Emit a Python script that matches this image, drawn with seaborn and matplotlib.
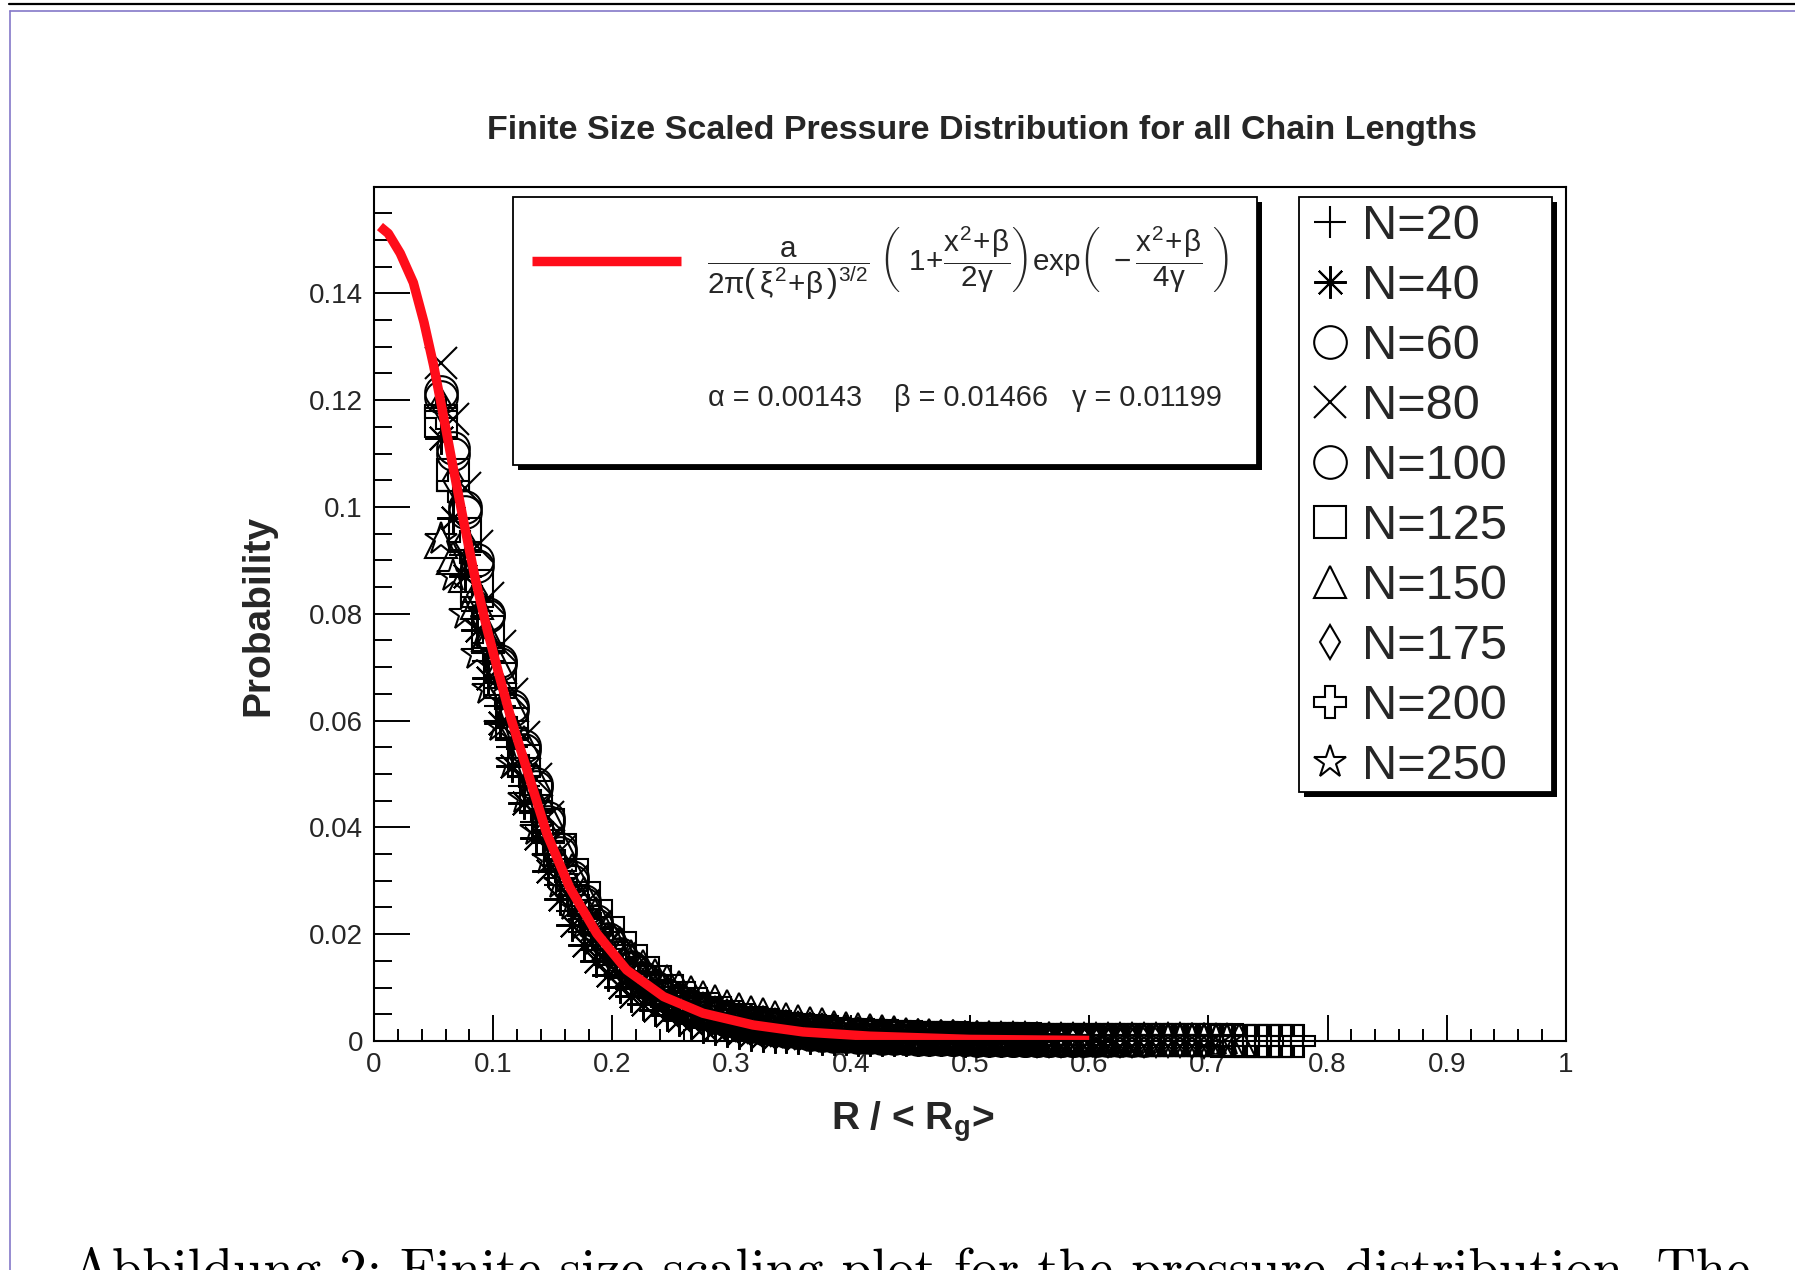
import matplotlib
matplotlib.use("Agg")
import matplotlib.pyplot as plt
import seaborn as sns
from matplotlib.patches import Rectangle
from matplotlib.lines import Line2D
from matplotlib.ticker import FixedLocator, MultipleLocator

# ---------------- data ----------------
TITLE = "Finite Size Scaled Pressure Distribution for all Chain Lengths"
X_LABEL = "R / < R$_\\mathregular{g}$>"
Y_LABEL = "Probability"
CAPTION = "Abbildung 2: Finite size scaling plot for the pressure distribution. The"

X_TICKS = [0.0, 0.1, 0.2, 0.3, 0.4, 0.5, 0.6, 0.7, 0.8, 0.9, 1.0]
X_TICKLABELS = ["0", "0.1", "0.2", "0.3", "0.4", "0.5", "0.6", "0.7", "0.8", "0.9", "1"]
Y_TICKS = [0.0, 0.02, 0.04, 0.06, 0.08, 0.10, 0.12, 0.14]
Y_TICKLABELS = ["0", "0.02", "0.04", "0.06", "0.08", "0.1", "0.12", "0.14"]

N_VALUES = [20, 40, 60, 80, 100, 125, 150, 175, 200, 250]

R_BINS = [
    0.056, 0.066, 0.076, 0.086, 0.096, 0.106, 0.116, 0.126, 0.136, 0.146,
    0.156, 0.166, 0.176, 0.186, 0.196, 0.206, 0.216, 0.226, 0.236, 0.246,
    0.256, 0.266, 0.276, 0.286, 0.296, 0.306, 0.316, 0.326, 0.336, 0.346,
    0.356, 0.366, 0.376, 0.386, 0.396, 0.406, 0.416, 0.426, 0.436, 0.446,
    0.456, 0.466, 0.476, 0.486, 0.496, 0.506, 0.516, 0.526, 0.536, 0.546,
    0.556, 0.566, 0.576, 0.586, 0.596, 0.606, 0.616, 0.626, 0.636, 0.646,
    0.656, 0.666, 0.676, 0.686, 0.696, 0.706, 0.716, 0.726, 0.736, 0.746,
    0.756, 0.766, 0.776,
]

P_N20 = [
    0.1180, 0.1030, 0.0910, 0.0805, 0.0712, 0.0628, 0.0550, 0.0478, 0.0410, 0.0348,
    0.0292, 0.0244, 0.0204, 0.0170, 0.0142, 0.0118, 0.0098, 0.0082, 0.0068, 0.0057,
    0.0048, 0.0040, 0.0034, 0.0028, 0.0024, 0.0020, 0.0017, 0.0014, 0.0012, 0.0010,
    0.0008, 0.0007, 0.0006, 0.0005, 0.0004, 0.0004, 0.0003, 0.0003, 0.0002, 0.0002,
    0.0002, 0.0001, 0.0001, 0.0001, 0.0001,
]
P_N40 = [
    0.1130, 0.0980, 0.0870, 0.0770, 0.0680, 0.0595, 0.0515, 0.0445, 0.0380, 0.0318,
    0.0265, 0.0218, 0.0180, 0.0150, 0.0124, 0.0102, 0.0084, 0.0070, 0.0058, 0.0048,
    0.0040, 0.0033, 0.0027, 0.0022, 0.0018, 0.0015, 0.0012, 0.0010, 0.0008, 0.0007,
    0.0006, 0.0005, 0.0004, 0.0003, 0.0003, 0.0002, 0.0002, 0.0002, 0.0001, 0.0001,
    0.0001, 0.0001, 0.0001, 0.0001, 0.0000, 0.0000, 0.0000, 0.0000, 0.0000, 0.0000,
    0.0000,
]
P_N60 = [
    0.1215, 0.1110, 0.1000, 0.0900, 0.0800, 0.0712, 0.0628, 0.0552, 0.0482, 0.0418,
    0.0360, 0.0308, 0.0262, 0.0224, 0.0191, 0.0163, 0.0139, 0.0118, 0.0101, 0.0086,
    0.0073, 0.0063, 0.0054, 0.0046, 0.0040, 0.0034, 0.0029, 0.0025, 0.0022, 0.0019,
    0.0016, 0.0014, 0.0012, 0.0010, 0.0009, 0.0008, 0.0007, 0.0006, 0.0005, 0.0005,
    0.0004, 0.0004, 0.0003, 0.0003, 0.0003, 0.0002, 0.0002, 0.0002, 0.0002, 0.0001,
    0.0001, 0.0001, 0.0001, 0.0001,
]
P_N80 = [
    0.1270, 0.1165, 0.1036, 0.0927, 0.0830, 0.0740, 0.0650, 0.0570, 0.0490, 0.0420,
    0.0355, 0.0300, 0.0255, 0.0215, 0.0182, 0.0155, 0.0132, 0.0112, 0.0096, 0.0082,
    0.0070, 0.0060, 0.0052, 0.0045, 0.0039, 0.0034, 0.0029, 0.0025, 0.0022, 0.0019,
    0.0016, 0.0014, 0.0012, 0.0010, 0.0009, 0.0008, 0.0007, 0.0006, 0.0005, 0.0005,
    0.0004, 0.0004, 0.0003, 0.0003, 0.0003, 0.0002, 0.0002, 0.0002, 0.0002, 0.0001,
    0.0001, 0.0001, 0.0001, 0.0001, 0.0001, 0.0000, 0.0000,
]
P_N100 = [
    0.1205, 0.1100, 0.0990, 0.0890, 0.0795, 0.0705, 0.0620, 0.0545, 0.0476, 0.0410,
    0.0352, 0.0300, 0.0256, 0.0218, 0.0186, 0.0158, 0.0135, 0.0115, 0.0098, 0.0084,
    0.0072, 0.0062, 0.0053, 0.0046, 0.0040, 0.0035, 0.0030, 0.0026, 0.0023, 0.0020,
    0.0018, 0.0016, 0.0014, 0.0012, 0.0011, 0.0010, 0.0009, 0.0008, 0.0007, 0.0006,
    0.0006, 0.0005, 0.0005, 0.0004, 0.0004, 0.0003, 0.0003, 0.0003, 0.0002, 0.0002,
    0.0002, 0.0002, 0.0001, 0.0001, 0.0001, 0.0001, 0.0001, 0.0001, 0.0001, 0.0001,
]
P_N125 = [
    0.1160, 0.1060, 0.0950, 0.0852, 0.0765, 0.0677, 0.0594, 0.0525, 0.0457, 0.0404,
    0.0358, 0.0310, 0.0267, 0.0234, 0.0203, 0.0175, 0.0150, 0.0128, 0.0110, 0.0094,
    0.0081, 0.0070, 0.0060, 0.0052, 0.0045, 0.0039, 0.0034, 0.0030, 0.0026, 0.0023,
    0.0020, 0.0018, 0.0016, 0.0014, 0.0012, 0.0011, 0.0010, 0.0009, 0.0008, 0.0007,
    0.0006, 0.0006, 0.0005, 0.0005, 0.0004, 0.0004, 0.0003, 0.0003, 0.0003, 0.0003,
    0.0002, 0.0002, 0.0002, 0.0002, 0.0002, 0.0001, 0.0001, 0.0001, 0.0001, 0.0001,
    0.0001, 0.0001, 0.0001, 0.0001, 0.0001, 0.0001, 0.0001, 0.0000, 0.0000, 0.0000,
    0.0000, 0.0000,
]
P_N150 = [
    0.0935, 0.0905, 0.0870, 0.0820, 0.0760, 0.0700, 0.0630, 0.0560, 0.0490, 0.0425,
    0.0370, 0.0320, 0.0278, 0.0240, 0.0210, 0.0183, 0.0160, 0.0140, 0.0124, 0.0112,
    0.0102, 0.0092, 0.0083, 0.0075, 0.0066, 0.0060, 0.0055, 0.0050, 0.0045, 0.0041,
    0.0038, 0.0034, 0.0031, 0.0027, 0.0024, 0.0022, 0.0020, 0.0018, 0.0016, 0.0014,
    0.0012, 0.0011, 0.0010, 0.0009, 0.0008, 0.0007, 0.0006, 0.0006, 0.0005, 0.0005,
    0.0004, 0.0004, 0.0003, 0.0003, 0.0003, 0.0002, 0.0002, 0.0002, 0.0002, 0.0002,
    0.0001, 0.0001, 0.0001, 0.0001, 0.0001, 0.0001, 0.0001, 0.0001,
]
P_N175 = [
    0.1190, 0.1050, 0.0935, 0.0835, 0.0745, 0.0662, 0.0585, 0.0512, 0.0446, 0.0386,
    0.0334, 0.0288, 0.0248, 0.0213, 0.0184, 0.0158, 0.0136, 0.0117, 0.0101, 0.0087,
    0.0076, 0.0066, 0.0058, 0.0051, 0.0045, 0.0039, 0.0035, 0.0031, 0.0027, 0.0024,
    0.0021, 0.0019, 0.0017, 0.0015, 0.0013, 0.0012, 0.0010, 0.0009, 0.0008, 0.0007,
    0.0007, 0.0006, 0.0005, 0.0005, 0.0004, 0.0004, 0.0004, 0.0003, 0.0003, 0.0003,
    0.0002, 0.0002, 0.0002, 0.0002, 0.0002, 0.0001, 0.0001, 0.0001, 0.0001, 0.0001,
    0.0001, 0.0001, 0.0001, 0.0000, 0.0000,
]
P_N200 = [
    0.1175, 0.1040, 0.0925, 0.0822, 0.0735, 0.0652, 0.0576, 0.0505, 0.0440, 0.0380,
    0.0328, 0.0283, 0.0244, 0.0210, 0.0181, 0.0156, 0.0134, 0.0115, 0.0099, 0.0085,
    0.0074, 0.0064, 0.0056, 0.0049, 0.0043, 0.0038, 0.0033, 0.0029, 0.0026, 0.0023,
    0.0020, 0.0018, 0.0016, 0.0014, 0.0012, 0.0011, 0.0010, 0.0009, 0.0008, 0.0007,
    0.0006, 0.0006, 0.0005, 0.0005, 0.0004, 0.0004, 0.0003, 0.0003, 0.0003, 0.0002,
    0.0002, 0.0002, 0.0002, 0.0002, 0.0001, 0.0001, 0.0001, 0.0001, 0.0001, 0.0001,
    0.0001, 0.0001, 0.0001, 0.0001, 0.0001, 0.0000, 0.0000, 0.0000, 0.0000, 0.0000,
    0.0000, 0.0000, 0.0000,
]
P_N250 = [
    0.0940, 0.0870, 0.0800, 0.0725, 0.0660, 0.0590, 0.0520, 0.0455, 0.0395, 0.0340,
    0.0295, 0.0255, 0.0220, 0.0190, 0.0163, 0.0140, 0.0121, 0.0105, 0.0092, 0.0081,
    0.0072, 0.0064, 0.0057, 0.0051, 0.0046, 0.0041, 0.0037, 0.0033, 0.0030, 0.0027,
    0.0024, 0.0022, 0.0020, 0.0018, 0.0016, 0.0014, 0.0013, 0.0012, 0.0011, 0.0010,
    0.0009, 0.0008, 0.0007, 0.0007, 0.0006, 0.0005, 0.0005, 0.0004, 0.0004, 0.0003,
    0.0003, 0.0003, 0.0002, 0.0002, 0.0002, 0.0002, 0.0001, 0.0001, 0.0001, 0.0001,
    0.0001, 0.0001, 0.0001, 0.0001, 0.0001, 0.0001, 0.0001,
]
SERIES_P = [P_N20, P_N40, P_N60, P_N80, P_N100, P_N125, P_N150, P_N175, P_N200, P_N250]

# fitted curve
FIT_X = [0.005, 0.012, 0.022, 0.033, 0.042, 0.050, 0.057, 0.065, 0.075, 0.085,
         0.095, 0.105, 0.115, 0.128, 0.145, 0.164, 0.187, 0.212, 0.243, 0.276,
         0.318, 0.360, 0.416, 0.500, 0.600]
FIT_Y = [0.1525, 0.1512, 0.1475, 0.1420, 0.1345, 0.1265, 0.1185, 0.1090, 0.0975, 0.0865,
         0.0770, 0.0685, 0.0603, 0.0510, 0.0388, 0.0288, 0.0201, 0.0133, 0.0083, 0.0052,
         0.0030, 0.0017, 0.0009, 0.0003, 0.0001]

FORMULA = (r"$\dfrac{a}{2\pi\left(\,\xi^{2}\!+\!\beta\,\right)^{3/2}}\ "
           r"\left(\ 1\!+\!\dfrac{x^{2}\!+\!\beta}{2\gamma}\right)\mathrm{exp}"
           r"\left(\ -\dfrac{x^{2}\!+\!\beta}{4\gamma}\ \right)$")
PARAMS = "α = 0.00143    β = 0.01466   γ = 0.01199"

# ---------------- style ----------------
MARKERS = ["+", (8, 2, 0), "o", "x", "o", "s", "^", "d", "P", "*"]
MSIZES = [23.5, 23.5, 23.5, 23.5, 23.5, 23.5, 23.5, 17.0, 23.5, 24.5]
RED = "#ff0d1a"

sns.set_style("ticks")
plt.rcParams["font.family"] = ["Liberation Sans", "DejaVu Sans"]
plt.rcParams["mathtext.fontset"] = "custom"
plt.rcParams["mathtext.rm"] = "Liberation Sans"
plt.rcParams["mathtext.it"] = "Liberation Sans"
plt.rcParams["mathtext.bf"] = "Liberation Sans:bold"
plt.rcParams["mathtext.sf"] = "Liberation Sans"
plt.rcParams["axes.unicode_minus"] = False

W, H = 1795, 1270
fig = plt.figure(figsize=(W / 100, H / 100), dpi=100)
fig.patch.set_facecolor("white")


def fx(px):
    return px / W


def fy(py):
    return 1 - py / H


AX_L, AX_R, AX_T, AX_B = 374, 1566, 186.5, 1041
ax = fig.add_axes([fx(AX_L), fy(AX_B), (AX_R - AX_L) / W, (AX_B - AX_T) / H])

handles = []
for n, ys, m, ms in zip(N_VALUES, SERIES_P, MARKERS, MSIZES):
    sns.lineplot(x=R_BINS[:len(ys)], y=ys, ax=ax, estimator=None, sort=False,
                 legend=False, color="black", linestyle="", marker=m,
                 markersize=ms, markerfacecolor="none", markeredgecolor="black",
                 markeredgewidth=1.5, clip_on=False, zorder=3)
    handles.append(ax.lines[-1])

sns.lineplot(x=FIT_X, y=FIT_Y, ax=ax, estimator=None, sort=False, legend=False,
             color=RED, linewidth=6.8, zorder=6, solid_capstyle="butt",
             solid_joinstyle="round")
red_line = ax.lines[-1]

ax.set_xlim(0, 1)
ax.set_ylim(0, 0.16)
ax.xaxis.set_major_locator(FixedLocator(X_TICKS))
ax.set_xticklabels(X_TICKLABELS)
ax.yaxis.set_major_locator(FixedLocator(Y_TICKS))
ax.set_yticklabels(Y_TICKLABELS)
ax.xaxis.set_minor_locator(MultipleLocator(0.02))
ax.yaxis.set_minor_locator(MultipleLocator(0.005))
ax.tick_params(axis="x", which="major", direction="in", length=18.5, width=1.4,
               color="black", labelsize=20, pad=8, top=False, bottom=True)
ax.tick_params(axis="x", which="minor", direction="in", length=9, width=1.4,
               color="black", top=False, bottom=True)
ax.tick_params(axis="y", which="major", direction="in", length=26, width=1.4,
               color="black", labelsize=20, pad=8, right=False, left=True)
ax.tick_params(axis="y", which="minor", direction="in", length=13, width=1.4,
               color="black", right=False, left=True)
for sp in ax.spines.values():
    sp.set_visible(True)
    sp.set_color("black")
    sp.set_linewidth(1.5)
    sp.set_zorder(7)

ax.set_xlabel(X_LABEL, fontsize=28, fontweight="bold", va="baseline", ha="center")
ax.xaxis.set_label_coords((913 - AX_L) / (AX_R - AX_L), -(1130 - AX_B) / (AX_B - AX_T))
ax.set_ylabel(Y_LABEL, fontsize=28, fontweight="bold", va="center", ha="center")
ax.yaxis.set_label_coords((258 - AX_L) / (AX_R - AX_L), (AX_B - 615) / (AX_B - AX_T))
ax.set_title(TITLE, fontsize=24.5, fontweight="bold", pad=0,
             x=(982 - AX_L) / (AX_R - AX_L), y=(AX_B - 138.5) / (AX_B - AX_T),
             va="baseline")


# legend boxes with black shadow
def framed_box(x0, y0, x1, y1):
    w, h = (x1 - x0) / W, (y1 - y0) / H
    ax.add_patch(Rectangle((fx(x0 + 5), fy(y1 + 5)), w, h, transform=fig.transFigure,
                           facecolor="black", edgecolor="black", lw=0, zorder=8,
                           clip_on=False))
    ax.add_patch(Rectangle((fx(x0), fy(y1)), w, h, transform=fig.transFigure,
                           facecolor="white", edgecolor="black", lw=1.3, zorder=8.5,
                           clip_on=False))


framed_box(513, 197, 1257, 465)
framed_box(1299, 197, 1552, 792)

leg1 = ax.legend(handles=[red_line], labels=[FORMULA], loc="center left",
                 bbox_to_anchor=(fx(532), fy(263)), bbox_transform=fig.transFigure,
                 frameon=False, fontsize=21.3, handlelength=5.03, handletextpad=0.89,
                 borderpad=0, borderaxespad=0)
leg1.set_zorder(10)
ax.add_artist(leg1)

leg2 = ax.legend(handles=handles, labels=[f"N={n}" for n in N_VALUES],
                 loc="center left", bbox_to_anchor=(fx(1313), fy(496.5)),
                 bbox_transform=fig.transFigure, frameon=False, fontsize=35,
                 handlelength=0.7, handletextpad=0.3, labelspacing=0.31,
                 borderpad=0, borderaxespad=0, markerscale=1)
leg2.set_zorder(10)

fig.text(fx(707.5), fy(398), PARAMS, fontsize=20.8, ha="left", va="center", zorder=12)

# page decoration around the figure (document screenshot)
fig.add_artist(Line2D([fx(9), 1.0], [fy(4), fy(4)], transform=fig.transFigure,
                      color="black", lw=1.6))
fig.add_artist(Line2D([fx(10), 1.0], [fy(10.5), fy(10.5)], transform=fig.transFigure,
                      color="#8478c8", lw=1.2))
fig.add_artist(Line2D([fx(10), fx(10)], [fy(10.5), 0.0], transform=fig.transFigure,
                      color="#8478c8", lw=1.2))

fig.text(fx(71), fy(1286), CAPTION, family="cmr10", fontsize=39.3, ha="left",
         va="baseline", color="black")

fig.savefig("out.png", dpi=100)
